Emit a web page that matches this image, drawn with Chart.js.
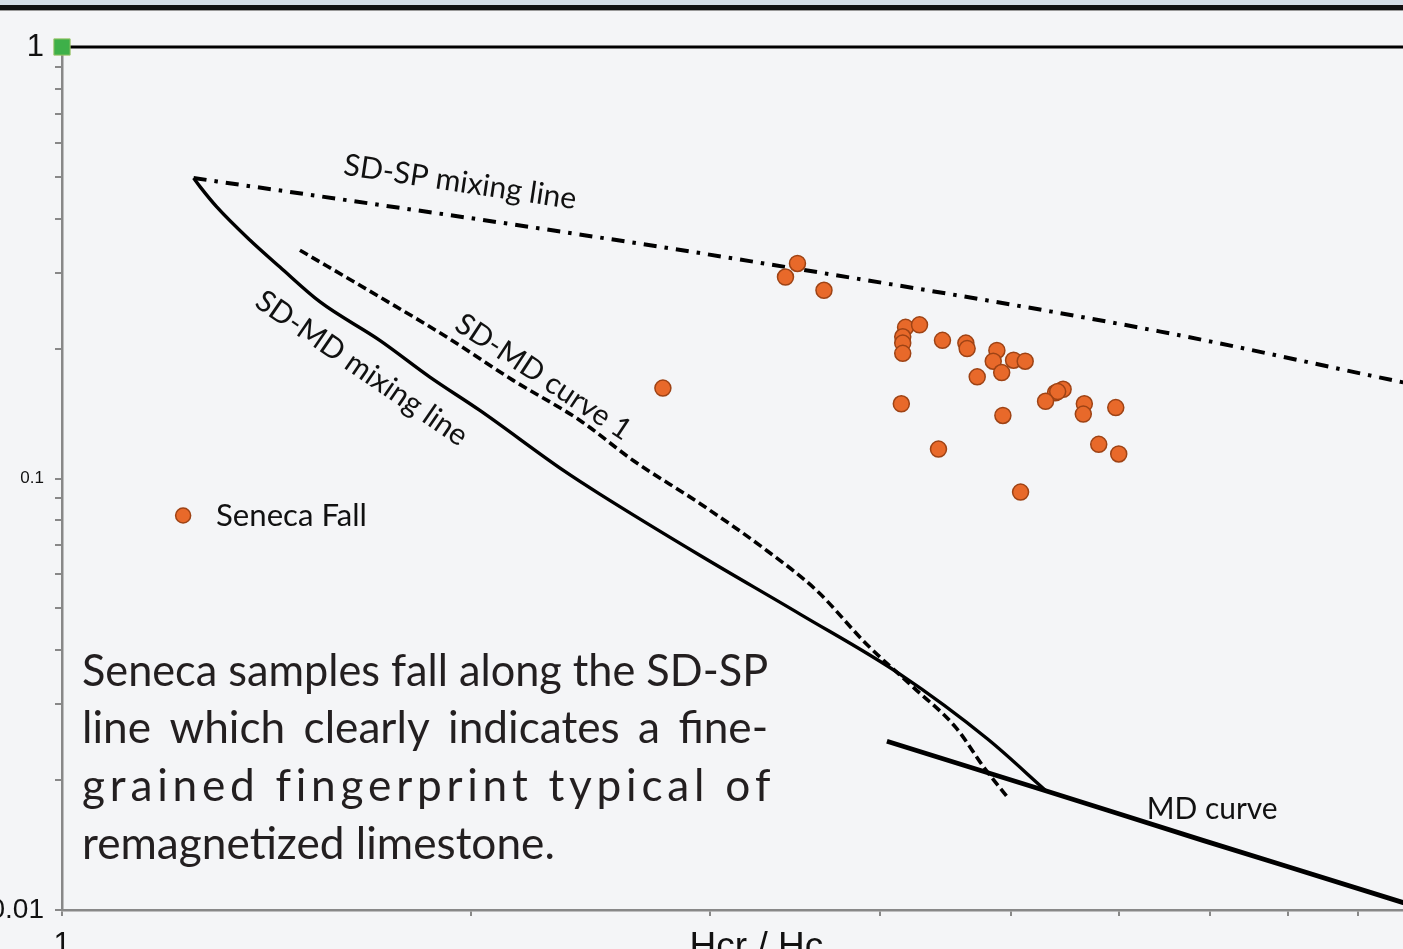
<!DOCTYPE html>
<html>
<head>
<meta charset="utf-8">
<title>Day plot - Seneca Fall</title>
<script src="https://cdn.jsdelivr.net/npm/chart.js@4.4.1/dist/chart.umd.min.js"></script>
<style>
  html, body { margin: 0; padding: 0; background: #f4f5f7; overflow: hidden; width: 1403px; height: 949px; }
  .top-strip { position: absolute; left: 0; top: 0; width: 100%; height: 5px; background: #d4dde6; }
  .top-bar { position: absolute; left: 0; top: 5px; width: 100%; height: 5px; background: #111; border-bottom: 1px solid #999; }
  #wrap { position: absolute; left: -100px; top: 0; width: 1560px; height: 1000px; }
</style>
</head>
<body>
<div class="top-strip"></div>
<div class="top-bar"></div>
<div id="wrap"><canvas id="day-plot" width="1560" height="1000"></canvas></div>
<script>
// Seneca Fall samples, Hcr/Hc (x) vs Mr/Ms (y)
const senecaHcrHc = [3.48, 3.41, 3.64, 4.18, 4.28, 4.16, 4.16, 4.16, 4.45, 4.63, 4.64, 4.88, 4.85, 5.02, 5.12, 4.92,
                     4.72, 5.46, 5.39, 5.41, 5.30, 5.66, 5.65, 5.97, 4.15, 4.93, 5.80, 6.00, 4.42, 5.08, 2.77];
const senecaMrMs  = [0.315, 0.293, 0.273, 0.224, 0.227, 0.213, 0.206, 0.195, 0.209, 0.206, 0.200, 0.198, 0.187, 0.188, 0.187, 0.176,
                     0.172, 0.161, 0.158, 0.159, 0.151, 0.149, 0.141, 0.146, 0.149, 0.140, 0.120, 0.114, 0.117, 0.093, 0.162];

// reference curves
const sdspHcrHc = [1.25, 2.27, 3.21, 6.44, 9.72, 10];
const sdspMrMs  = [0.497, 0.378, 0.319, 0.219, 0.167, 0.164];

const sdmdHcrHc = [1.25, 1.264, 1.300, 1.375, 1.447, 1.549, 1.714, 1.866, 2.031, 2.340, 2.489, 2.951, 3.495, 4.14, 4.804, 5.303];
const sdmdMrMs  = [0.497, 0.474, 0.426, 0.357, 0.309, 0.2565, 0.209, 0.1718, 0.1438, 0.1044, 0.092, 0.0663, 0.0485, 0.0352, 0.0249, 0.0189];

const curve1HcrHc = [1.497, 1.714, 1.920, 2.149, 2.407, 2.634, 2.951, 3.303, 3.595, 3.913, 4.236, 4.551, 4.774, 4.980];
const curve1MrMs  = [0.338, 0.2634, 0.2127, 0.1688, 0.1363, 0.1101, 0.0874, 0.0681, 0.0550, 0.0413, 0.0328, 0.0265, 0.0214, 0.0181];

const mdHcrHc = [4.05, 5.30, 6.92, 9.72, 10];
const mdMrMs  = [0.0246, 0.0189, 0.0145, 0.0104, 0.0101];

const cornerHcrHc = [1];
const cornerMrMs  = [1];

// axes
const xTicks = [1, 2, 3, 4, 5, 6, 7, 8, 9, 10];
const xTickLabels = ['1', '10'];
const yTicks = [0.01, 0.02, 0.03, 0.04, 0.05, 0.06, 0.07, 0.08, 0.09,
                0.1, 0.2, 0.3, 0.4, 0.5, 0.6, 0.7, 0.8, 0.9, 1];
const yTickLabels = ['0.01', '0.1', '1'];

const TEXT_FONT = 'Lato, "Open Sans", sans-serif';
const AXIS_FONT = '"Liberation Sans", Arial, sans-serif';
const labelSize = { '1': 31, '10': 30, '0.1': 17, '0.01': 28 };

function toPoints(xs, ys) {
    return xs.map((x, i) => ({ x: x, y: ys[i] }));
}

function fitSize(ctx, text, width) {
    ctx.font = '100px ' + TEXT_FONT;
    return 100 * width / ctx.measureText(text).width;
}

function centeredLabel(ctx, text, px, py, deg, width) {
    const size = fitSize(ctx, text, width);
    ctx.save();
    ctx.translate(px, py);
    ctx.rotate(deg * Math.PI / 180);
    ctx.font = size + 'px ' + TEXT_FONT;
    ctx.textAlign = 'center';
    ctx.textBaseline = 'middle';
    ctx.fillStyle = '#111';
    ctx.fillText(text, 0, 0);
    ctx.restore();
}

function justified(ctx, text, left, right, baseline, mode) {
    const natural = ctx.measureText(text).width;
    const extra = right - left - natural;
    if (mode === 'none' || extra <= 0) {
        ctx.fillText(text, left, baseline, right - left);
        return;
    }
    const parts = mode === 'words' ? text.split(' ') : [...text];
    const gap = (mode === 'words' ? ctx.measureText(' ').width : 0) + extra / (parts.length - 1);
    let cx = left;
    parts.forEach(p => {
        ctx.fillText(p, cx, baseline);
        cx += ctx.measureText(p).width + gap;
    });
}

// text, legend and frame drawn on top of the chart
const annotations = {
    id: 'annotations',
    beforeDatasetsDraw(chart) {
        const { ctx, chartArea } = chart;
        ctx.save();
        ctx.strokeStyle = '#000';
        ctx.lineWidth = 3;
        ctx.beginPath();
        ctx.moveTo(chartArea.left, chartArea.top);
        ctx.lineTo(chart.width, chartArea.top);
        ctx.stroke();
        ctx.restore();
    },
    afterDatasetsDraw(chart) {
        const { ctx, scales: { x, y } } = chart;

        centeredLabel(ctx, 'SD-SP mixing line', x.getPixelForValue(1.964), y.getPixelForValue(0.486), 8.5, 235);
        centeredLabel(ctx, 'SD-MD mixing line', x.getPixelForValue(1.662), y.getPixelForValue(0.180), 34.5, 250);
        centeredLabel(ctx, 'SD-MD curve 1', x.getPixelForValue(2.262), y.getPixelForValue(0.1718), 33.5, 204);
        centeredLabel(ctx, 'MD curve', x.getPixelForValue(7.03), y.getPixelForValue(0.01715), 0, 131);

        // legend
        ctx.save();
        ctx.beginPath();
        ctx.arc(x.getPixelForValue(1.228), y.getPixelForValue(0.0821), 7.5, 0, Math.PI * 2);
        ctx.fillStyle = '#E8692A';
        ctx.fill();
        ctx.lineWidth = 1.5;
        ctx.strokeStyle = '#9E4315';
        ctx.stroke();
        const legendSize = fitSize(ctx, 'Seneca Fall', 151);
        ctx.font = legendSize + 'px ' + TEXT_FONT;
        ctx.fillStyle = '#111';
        ctx.textBaseline = 'middle';
        ctx.fillText('Seneca Fall', x.getPixelForValue(1.2984), y.getPixelForValue(0.0821));
        ctx.restore();

        // note
        const lines = ['Seneca samples fall along the SD-SP',
                       'line which clearly indicates a fine-',
                       'grained fingerprint typical of',
                       'remagnetized limestone.'];
        const modes = ['words', 'words', 'chars', 'none'];
        const baselines = [0.0331, 0.0244, 0.0179, 0.01313];
        const left = x.getPixelForValue(1.0345);
        const right = x.getPixelForValue(3.311);
        ctx.save();
        ctx.font = fitSize(ctx, lines[3], 473) + 'px ' + TEXT_FONT;
        ctx.fillStyle = '#231f20';
        ctx.textBaseline = 'alphabetic';
        lines.forEach((line, i) => justified(ctx, line, left, right, y.getPixelForValue(baselines[i]), modes[i]));
        ctx.restore();
    }
};

const ctx = document.getElementById('day-plot').getContext('2d');

new Chart(ctx, {
    type: 'scatter',
    data: {
        datasets: [
            {
                label: 'Seneca Fall',
                data: toPoints(senecaHcrHc, senecaMrMs),
                backgroundColor: '#E8692A',
                borderColor: '#9E4315',
                borderWidth: 1.5,
                pointRadius: 8
            },
            {
                label: 'SD',
                data: toPoints(cornerHcrHc, cornerMrMs),
                pointStyle: 'rect',
                pointRadius: 11.5,
                backgroundColor: '#3EB049',
                borderColor: '#9CC46A',
                borderWidth: 1,
                clip: false
            },
            {
                label: 'SD-SP mixing line',
                data: toPoints(sdspHcrHc, sdspMrMs),
                showLine: true,
                pointRadius: 0,
                borderColor: '#000',
                borderWidth: 4,
                borderDash: [13, 8, 3.5, 8],
                cubicInterpolationMode: 'monotone'
            },
            {
                label: 'SD-MD mixing line',
                data: toPoints(sdmdHcrHc, sdmdMrMs),
                showLine: true,
                pointRadius: 0,
                borderColor: '#000',
                borderWidth: 3.4,
                cubicInterpolationMode: 'monotone'
            },
            {
                label: 'SD-MD curve 1',
                data: toPoints(curve1HcrHc, curve1MrMs),
                showLine: true,
                pointRadius: 0,
                borderColor: '#000',
                borderWidth: 3.6,
                borderDash: [9, 4.5],
                cubicInterpolationMode: 'monotone'
            },
            {
                label: 'MD curve',
                data: toPoints(mdHcrHc, mdMrMs),
                showLine: true,
                pointRadius: 0,
                borderColor: '#000',
                borderWidth: 4.8,
                cubicInterpolationMode: 'monotone'
            }
        ]
    },
    options: {
        responsive: false,
        animation: false,
        events: [],
        layout: {
            padding: { top: 47, left: 0, right: 40, bottom: 0 }
        },
        plugins: {
            legend: { display: false },
            tooltip: { enabled: false }
        },
        scales: {
            x: {
                type: 'logarithmic',
                min: 1,
                max: 10,
                afterBuildTicks: scale => { scale.ticks = xTicks.map(v => ({ value: v })); },
                afterFit: scale => { scale.height = 90; },
                border: { color: '#888', width: 2.5 },
                grid: { drawOnChartArea: false, drawTicks: true, tickLength: 6, color: '#888', lineWidth: 2 },
                ticks: {
                    autoSkip: false,
                    maxRotation: 0,
                    padding: 11,
                    color: '#111',
                    font: c => ({ family: AXIS_FONT, size: c.tick ? (labelSize[String(c.tick.value)] || 12) : 30 }),
                    callback: v => xTickLabels.includes(String(v)) ? String(v) : ''
                },
                title: {
                    display: true,
                    text: '\u00a0\u00a0\u00a0Hcr / Hc',
                    color: '#111',
                    font: { family: AXIS_FONT, size: 37 },
                    padding: { top: 0, bottom: 30 }
                }
            },
            y: {
                type: 'logarithmic',
                min: 0.01,
                max: 1,
                afterBuildTicks: scale => { scale.ticks = yTicks.map(v => ({ value: v })); },
                afterFit: scale => { scale.width = 162; },
                border: { color: '#888', width: 2.5 },
                grid: { drawOnChartArea: false, drawTicks: true, tickLength: 7, color: '#888', lineWidth: 2 },
                ticks: {
                    autoSkip: false,
                    padding: 11,
                    color: '#111',
                    font: c => ({ family: AXIS_FONT, size: c.tick ? (labelSize[String(c.tick.value)] || 12) : 26 }),
                    callback: v => yTickLabels.includes(String(v)) ? String(v) : ''
                }
            }
        }
    },
    plugins: [annotations]
});
</script>
</body>
</html>
